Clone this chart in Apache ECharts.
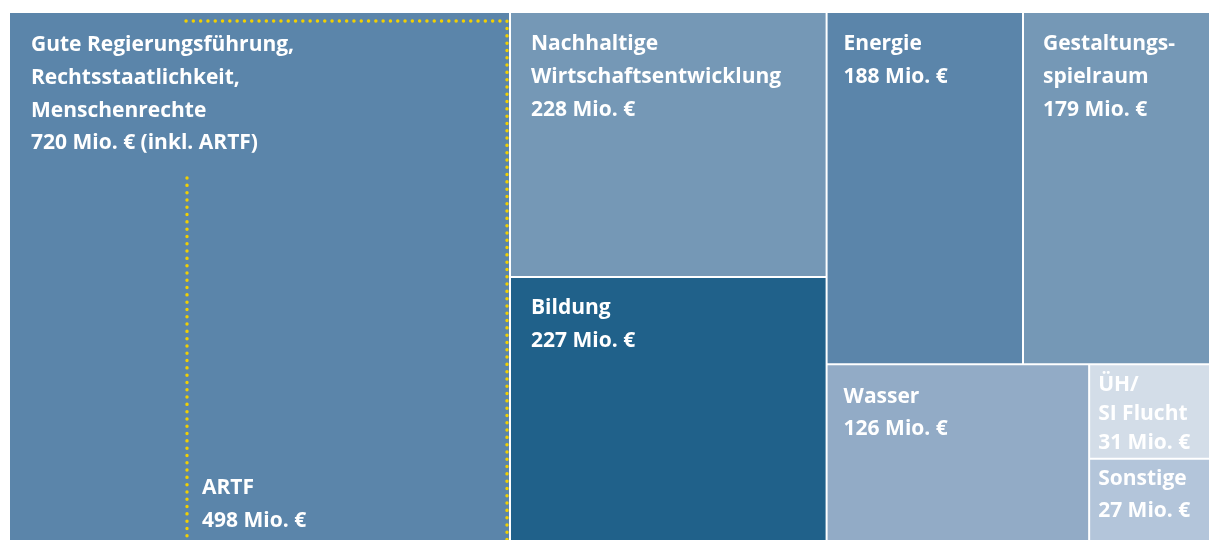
<!DOCTYPE html>
<html>
<head>
<meta charset="utf-8">
<script src="https://cdn.jsdelivr.net/npm/echarts@6/dist/echarts.min.js"></script>
<style>
    html, body { margin: 0; padding: 0; background: #ffffff; }
    #chart { width: 1209px; height: 540px; }
</style>
</head>
<body>
<div id="chart"></div>
<script>
    // Bereiche (Namen), Mittel in Mio. € und die Beschriftung der Werte
    var names = [
        'Gute Regierungsführung,\nRechtsstaatlichkeit,\nMenschenrechte',
        'Nachhaltige\nWirtschaftsentwicklung',
        'Bildung',
        'Energie',
        'Gestaltungs-\nspielraum',
        'Wasser',
        'ÜH/\nSI Flucht',
        'Sonstige'
    ];
    var values = [720, 228, 227, 188, 179, 126, 31, 27];
    var valueLabels = [
        '720 Mio. € (inkl. ARTF)',
        '228 Mio. €',
        '227 Mio. €',
        '188 Mio. €',
        '179 Mio. €',
        '126 Mio. €',
        '31 Mio. €',
        '27 Mio. €'
    ];

    // ARTF-Anteil innerhalb von "Gute Regierungsführung"
    var artfName = 'ARTF';
    var artfLabel = '498 Mio. €';

    // Stil
    var colors = ['#5b85aa', '#7598b6', '#20618a', '#5b85aa', '#7598b6', '#92abc6', '#d3dde8', '#b3c5da'];
    var labelOffsets = [[21, 16], [20, 15], [20, 14], [16, 15], [19, 15], [16, 15], [8, 5], [8, 3]];
    var labelLineHeights = [32.7, 32.7, 32.7, 32.7, 32.7, 32.7, 29, 32];

    var FONT = '"Open Sans", Lato, sans-serif';
    var FONT_SIZE = 21;
    var LINE_H = 32.7;

    var chart = echarts.init(document.getElementById('chart'));

    var treeData = [];
    for (var i = 0; i < values.length; i++) {
        treeData.push({
            name: names[i],
            value: values[i],
            itemStyle: { color: colors[i] },
            label: { position: labelOffsets[i], lineHeight: labelLineHeights[i] }
        });
    }

    chart.setOption({
        backgroundColor: '#ffffff',
        animation: false,
        tooltip: { show: false },
        series: [
            {
                type: 'treemap',
                left: 10,
                top: 13,
                width: 1199,
                height: 527,
                roam: false,
                nodeClick: false,
                squareRatio: 1,
                sort: 'desc',
                breadcrumb: { show: false },
                itemStyle: {
                    gapWidth: 2,
                    borderWidth: 0,
                    borderColor: '#ffffff'
                },
                emphasis: { disabled: true },
                label: {
                    show: true,
                    color: '#ffffff',
                    fontFamily: FONT,
                    fontSize: FONT_SIZE,
                    fontWeight: 'bold',
                    lineHeight: LINE_H,
                    padding: 0,
                    overflow: 'none',
                    lineOverflow: 'none',
                    formatter: function (params) {
                        return params.name + '\n' + valueLabels[params.dataIndex - 1];
                    }
                },
                data: treeData
            }
        ],
        graphic: [
            {
                type: 'polyline',
                z: 100,
                shape: { points: [[186, 21], [507, 21], [507, 545]] },
                style: { stroke: '#f2d000', lineWidth: 3.4, lineDash: [0.1, 7.2], lineCap: 'round', fill: null }
            },
            {
                type: 'polyline',
                z: 100,
                shape: { points: [[187, 178], [187, 545]] },
                style: { stroke: '#f2d000', lineWidth: 3.4, lineDash: [0.1, 7.2], lineCap: 'round', fill: null }
            },
            {
                type: 'text',
                z: 100,
                left: 202,
                top: 472,
                style: {
                    text: artfName + '\n' + artfLabel,
                    fill: '#ffffff',
                    font: 'bold ' + FONT_SIZE + 'px ' + FONT,
                    lineHeight: LINE_H
                }
            }
        ]
    });
</script>
</body>
</html>
